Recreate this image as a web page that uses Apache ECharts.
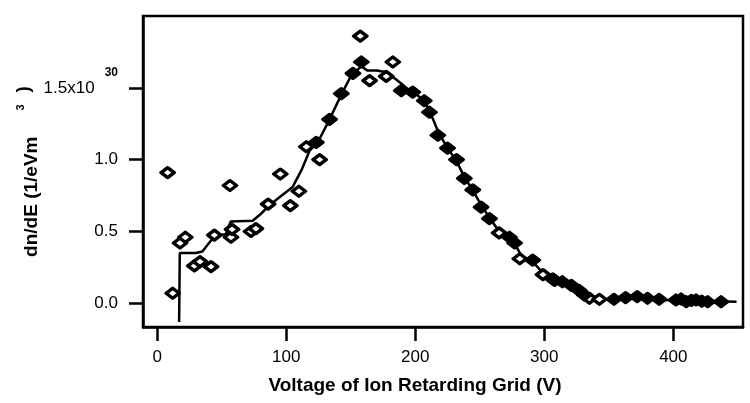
<!DOCTYPE html>
<html>
<head>
    <meta charset="UTF-8">
    <title>dn/dE</title>
    <script src="https://cdn.jsdelivr.net/npm/echarts@6/dist/echarts.min.js"></script>
    <style>
        html, body { margin: 0; padding: 0; background: #fff; }
        #chart { width: 750px; height: 403px; }
    </style>
</head>
<body>
<div id="chart"></div>
<script>
    // 刻度
    var xTicks = [0, 100, 200, 300, 400];
    var yTicks = [0, 0.5, 1.0, 1.5];

    // 空心点
    var openX = [8.1, 12, 17.7, 21.8, 28.8, 33.2, 41.7, 44.3, 56.4, 57.2, 58, 72.7, 76.5, 86, 95.4, 103.2, 109.8, 115.6, 125.9, 157.4, 164.6, 177.5, 182.6, 265, 281, 299, 308, 335, 342.7];
    var openY = [0.91, 0.07, 0.42, 0.46, 0.26, 0.29, 0.255, 0.475, 0.82, 0.46, 0.515, 0.50, 0.52, 0.69, 0.90, 0.68, 0.78, 1.09, 1.0, 1.86, 1.55, 1.58, 1.68, 0.49, 0.31, 0.20, 0.16, 0.035, 0.028];

    // 实心点
    var fillX = [123.3, 133.6, 142.7, 151.7, 158.2, 189.2, 198, 207, 211, 217.5, 225, 232, 238, 244.6, 251, 257.5, 273, 277, 291, 306.6, 314, 321, 327, 331, 354, 363, 372, 380, 389, 402, 406, 410, 414, 417.6, 422, 426.6, 437];
    var fillY = [1.12, 1.28, 1.46, 1.60, 1.68, 1.48, 1.47, 1.41, 1.33, 1.17, 1.08, 1.00, 0.87, 0.79, 0.67, 0.59, 0.46, 0.42, 0.30, 0.17, 0.15, 0.125, 0.09, 0.058, 0.028, 0.04, 0.046, 0.035, 0.028, 0.023, 0.03, 0.011, 0.02, 0.023, 0.015, 0.011, 0.011];

    // 拟合曲线
    var fitX = [17, 17.5, 30, 35, 42, 45, 53, 57, 74, 80, 88, 95, 105, 112, 118, 125, 133, 142, 150, 158, 163, 170, 177, 185, 193, 200, 207, 212, 218, 225, 232, 238, 245, 252, 258, 265, 272, 278, 283, 291, 299, 307, 315, 322, 330, 340, 350, 360, 370, 380, 390, 400, 410, 420, 430, 440, 449];
    var fitY = [-0.13, 0.35, 0.35, 0.36, 0.44, 0.47, 0.48, 0.57, 0.575, 0.62, 0.69, 0.74, 0.81, 0.93, 1.06, 1.13, 1.27, 1.44, 1.58, 1.65, 1.62, 1.62, 1.61, 1.56, 1.50, 1.46, 1.41, 1.32, 1.19, 1.08, 0.99, 0.88, 0.78, 0.67, 0.59, 0.50, 0.46, 0.40, 0.32, 0.29, 0.21, 0.17, 0.13, 0.10, 0.06, 0.03, 0.025, 0.035, 0.04, 0.03, 0.025, 0.02, 0.015, 0.015, 0.012, 0.012, 0.01];

    function pairs(xs, ys) {
        return xs.map(function (x, i) { return [x, ys[i]]; });
    }

    var font = 'Liberation Sans, Arial, sans-serif';
    var chart = echarts.init(document.getElementById('chart'), null, { renderer: 'canvas' });

    var option = {
        backgroundColor: '#fff',
        animation: false,
        grid: {
            left: 143, top: 16, right: 7, bottom: 76,
            show: true, borderColor: '#000', borderWidth: 2.5,
            containLabel: false, outerBoundsMode: 'none'
        },
        xAxis: {
            type: 'value',
            min: -11, max: 454,
            splitLine: { show: false },
            axisLine: { onZero: false, lineStyle: { color: '#000', width: 2.5 } },
            axisTick: { customValues: xTicks, length: 14, lineStyle: { color: '#000', width: 2.5 } },
            axisLabel: {
                customValues: xTicks, margin: 22,
                color: '#000', fontFamily: font, fontSize: 17
            },
            name: 'Voltage of Ion Retarding Grid (V)',
            nameLocation: 'middle',
            nameGap: 49,
            nameTextStyle: {
                color: '#000', fontFamily: font, fontSize: 19, fontWeight: 'bold',
                padding: [0, 56, 0, 0]
            }
        },
        yAxis: {
            type: 'value',
            min: -0.165, max: 2.0,
            splitLine: { show: false },
            axisLine: { onZero: false, lineStyle: { color: '#000', width: 2.5 } },
            axisTick: { customValues: yTicks, length: 14, lineStyle: { color: '#000', width: 2.5 } },
            axisLabel: {
                customValues: yTicks, margin: 25,
                color: '#000', fontFamily: font, fontSize: 17,
                formatter: function (v) {
                    if (v === 1.5) return '{m|1.5x10}{s|30}';
                    return v.toFixed(1);
                },
                rich: {
                    m: { fontFamily: font, fontSize: 17, color: '#000' },
                    s: { fontFamily: font, fontSize: 12, fontWeight: 'bold', color: '#000', padding: [0, 0, 31, 10] }
                }
            },
            name: '{a|dn/dE (1/eVm}{s|3}{p|)}',
            nameLocation: 'middle',
            nameRotate: 90,
            nameGap: 94,
            nameMoveOverlap: false,
            nameTextStyle: {
                rich: {
                    a: { fontFamily: font, fontSize: 19, fontWeight: 'bold', color: '#000' },
                    s: { fontFamily: font, fontSize: 11, fontWeight: 'bold', color: '#000', padding: [0, 0, 22, 26] },
                    p: { fontFamily: font, fontSize: 19, fontWeight: 'bold', color: '#000', padding: [0, 0, 16, 12] }
                }
            }
        },
        series: [
            {
                type: 'line',
                data: pairs(fitX, fitY),
                showSymbol: false,
                symbol: 'none',
                lineStyle: { color: '#000', width: 2.5 },
                z: 2
            },
            {
                type: 'scatter',
                data: pairs(openX, openY),
                symbol: 'diamond',
                symbolSize: [13, 10],
                itemStyle: { color: '#fff', borderColor: '#000', borderWidth: 3.5, borderJoin: 'round', opacity: 1 },
                z: 3
            },
            {
                type: 'scatter',
                data: pairs(fillX, fillY),
                symbol: 'diamond',
                symbolSize: [13, 10],
                itemStyle: { color: '#000', borderColor: '#000', borderWidth: 3.5, borderJoin: 'round', opacity: 1 },
                z: 4
            }
        ]
    };

    chart.setOption(option);
</script>
</body>
</html>
